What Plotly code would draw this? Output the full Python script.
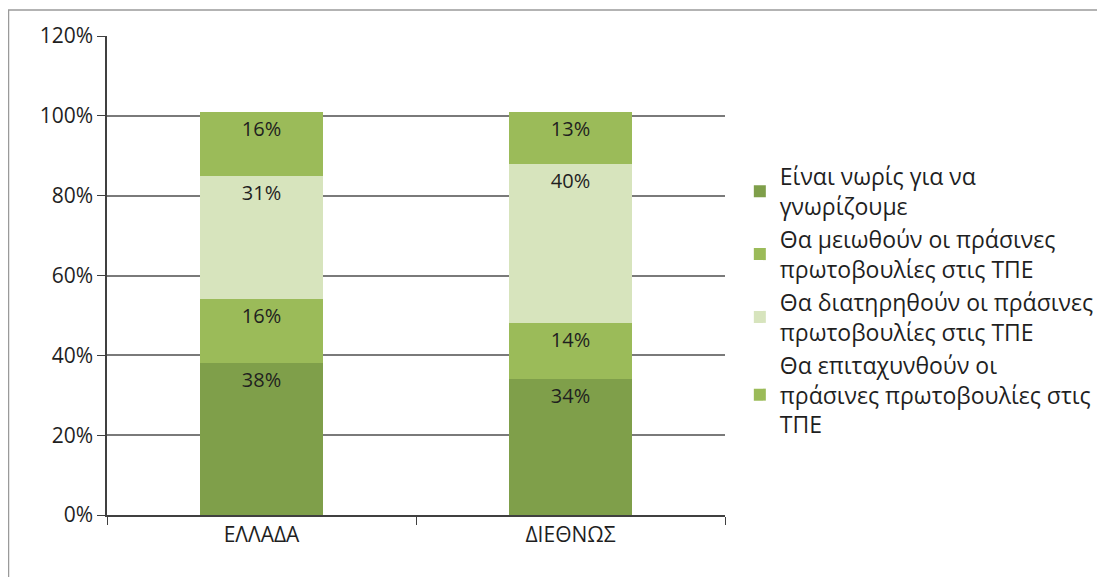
import plotly.graph_objects as go

categories = ["ΕΛΛΑΔΑ", "ΔΙΕΘΝΩΣ"]
series_names = [
    "Είναι νωρίς για να<br>γνωρίζουμε",
    "Θα μειωθούν οι πράσινες<br>πρωτοβουλίες στις ΤΠΕ",
    "Θα διατηρηθούν οι πράσινες<br>πρωτοβουλίες στις ΤΠΕ",
    "Θα επιταχυνθούν οι<br>πράσινες πρωτοβουλίες στις<br>ΤΠΕ",
]
early = [38, 34]
decrease = [16, 14]
maintain = [31, 40]
accelerate = [16, 13]
series_values = [early, decrease, maintain, accelerate]
colors = ["#7f9f4a", "#9bbb59", "#d7e4bd", "#9bbb59"]
y_ticks = [0, 20, 40, 60, 80, 100, 120]

FONT = "Open Sans"
TXT = "#1f1f1f"

fig = go.Figure()
for i, (name, vals, col) in enumerate(zip(series_names, series_values, colors)):
    fig.add_trace(go.Bar(
        x=categories, y=vals, name=name, legendgroup=f"g{i}",
        marker=dict(color=col, line=dict(width=0)),
        text=[f"{v}%" for v in vals],
        textposition="inside", insidetextanchor="end",
        textangle=0, constraintext="none",
        textfont=dict(family=FONT, size=20, color=TXT),
    ))

L, R, T, B = 99, 388, 28, 70
W, H = 1105, 577
pw, ph = W - L - R, H - T - B

fig.update_layout(
    width=W, height=H,
    barmode="stack", bargap=0.6,
    margin=dict(l=L, r=R, t=T, b=B),
    paper_bgcolor="white", plot_bgcolor="white",
    font=dict(family=FONT, size=20, color=TXT),
    showlegend=True,
    legend=dict(
        traceorder="normal", x=1.024, y=0.447, xanchor="left", yanchor="middle",
        font=dict(family=FONT, size=23, color=TXT),
        itemsizing="constant", tracegroupgap=6,
    ),
    xaxis=dict(
        showline=True, linecolor="#404040", linewidth=1.5,
        ticks="outside", tickson="boundaries", ticklen=8, tickcolor="#404040",
        tickfont=dict(family=FONT, size=21, color=TXT),
        showgrid=False,
    ),
    yaxis=dict(
        range=[0, 120], tickvals=y_ticks, ticktext=[f"{v}%" for v in y_ticks],
        showline=True, linecolor="#404040", linewidth=1.5,
        ticks="outside", ticklen=8, tickcolor="#404040",
        showgrid=True, gridcolor="#7a7a7a", gridwidth=1.5,
        tickfont=dict(family=FONT, size=21, color=TXT),
        zeroline=False,
    ),
    shapes=[dict(
        type="rect", xref="paper", yref="paper",
        x0=(0.5 - L) / pw, x1=(W + 20 - L) / pw,
        y0=(-20 - B) / ph, y1=(H - 2 - B) / ph,
        line=dict(color="#9a9a9a", width=1.5), fillcolor="rgba(0,0,0,0)", layer="below",
    )],
)

fig.write_html("out.html")
